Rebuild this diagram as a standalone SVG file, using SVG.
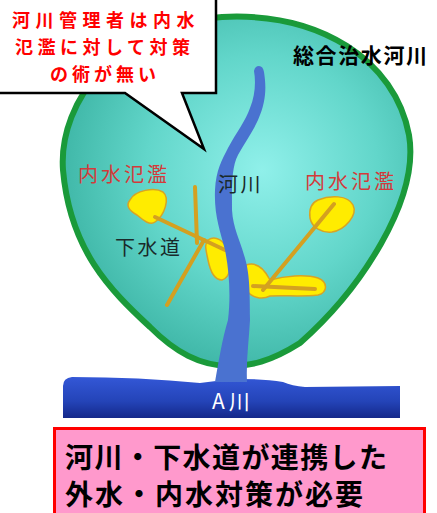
<svg xmlns="http://www.w3.org/2000/svg" width="437" height="513" viewBox="0 0 437 513">
  <defs>
    <radialGradient id="basinFill" cx="262" cy="170" r="210" gradientUnits="userSpaceOnUse">
      <stop offset="0" stop-color="#90f0ea"/>
      <stop offset="0.55" stop-color="#62d6ca"/>
      <stop offset="1" stop-color="#3cb4a4"/>
    </radialGradient>
    <linearGradient id="mainRiver" x1="0" y1="376" x2="0" y2="418" gradientUnits="userSpaceOnUse">
      <stop offset="0" stop-color="#3458d8"/>
      <stop offset="0.6" stop-color="#2444b8"/>
      <stop offset="1" stop-color="#14288a"/>
    </linearGradient>
    <style>
      .jp { font-family: "Noto Sans CJK JP", "Noto Sans CJK SC", sans-serif; }
      .bold { font-weight: 700; }
      .flood { fill: #d43a3a; font-size: 20px; letter-spacing: 3px; }
      .label { fill: #1a2a2a; font-size: 20px; letter-spacing: 2.5px; }
      .pool { fill: #ffec00; stroke: #d8a424; stroke-width: 1.5; }
      .sewer { stroke: #d4a020; stroke-width: 4; stroke-linecap: round; fill: none; }
    </style>
  </defs>

  <rect width="437" height="513" fill="#ffffff"/>

  <!-- Main river (A川) along the bottom -->
  <g id="a-river">
    <path d="M63,386 Q63,378 72,377 Q140,377 200,383 Q220,380 240,379 Q265,379 283,382 Q292,386 305,387 L400,386 L400,418 L63,418 Z" fill="url(#mainRiver)"/>
    <text class="jp" x="212" y="409" font-size="21" fill="#ffffff" letter-spacing="4">A川</text>
  </g>

  <!-- River basin outline -->
  <g id="basin">
    <path d="M222,17 C320,12 395,60 409,135 C420,200 360,290 300,343 C270,362 250,366 230,366 C200,366 175,352 150,327 C110,290 70,250 63,170 C58,100 120,22 222,17 Z" fill="url(#basinFill)" stroke="#1a9a3a" stroke-width="6"/>
  </g>

  <!-- Inland flood pools -->
  <g id="pools">
    <path class="pool" d="M130,200 C135,190 155,187 163,192 C170,198 165,215 155,222 C150,226 143,220 137,215 C128,210 126,205 130,200 Z"/>
    <path class="pool" d="M208,240 C215,235 225,240 228,252 C232,265 230,278 222,280 C214,280 210,270 208,260 C206,250 204,244 208,240 Z"/>
    <path class="pool" d="M246,265 C258,261 265,270 270,280 C285,276 305,274 318,278 C328,282 328,292 318,295 C300,297 285,295 270,296 C262,300 252,298 246,290 Z"/>
    <path class="pool" d="M318,200 C330,195 348,195 353,205 C358,215 345,230 332,232 C322,233 312,228 310,218 C309,210 311,203 318,200 Z"/>
  </g>

  <!-- Sewer lines -->
  <g id="connectors">
    <line class="sewer" x1="155" y1="217" x2="225" y2="250"/>
    <line class="sewer" x1="195" y1="187" x2="197" y2="243"/>
    <line class="sewer" x1="204" y1="240" x2="167" y2="305"/>
    <line class="sewer" x1="334" y1="204" x2="263" y2="290"/>
    <line class="sewer" x1="253" y1="286" x2="315" y2="289"/>
  </g>

  <!-- Tributary river running through the basin -->
  <g id="tributary">
    <path d="M254,71 Q255,66 259,66 Q263,66 264,72 C266,85 267,100 258,120 C252,133 245,142 238,155 C231,168 232,190 232,210 C233,228 240,240 244,255 C249,270 250,285 250,320 C249,340 246,360 247,382 L215,382 C219,360 222,340 228,320 C231,295 229,270 225,250 C220,230 214,215 215,190 C216,170 222,160 228,148 C236,133 246,120 250,108 C255,96 256,82 254,71 Z" fill="#4a72d0"/>
  </g>

  <!-- Map labels -->
  <g id="labels">
    <text class="jp flood" x="78" y="182">内水氾濫</text>
    <text class="jp flood" x="305" y="189">内水氾濫</text>
    <text class="jp label" x="218" y="192">河川</text>
    <text class="jp label" x="115" y="255">下水道</text>
  </g>

  <g id="basin-title">
    <text class="jp bold" x="293" y="63" font-size="21" fill="#000000" letter-spacing="1.6">総合治水河川</text>
  </g>

  <!-- Speech balloon -->
  <g id="callout">
    <path d="M-3,-3 H216 V93 H182 L204,149 L125,93 H-3 Z" fill="#ffffff" stroke="#000000" stroke-width="2.5" stroke-linejoin="miter"/>
    <g class="jp bold" fill="#ff0000" font-size="18">
      <text x="12" y="27" letter-spacing="5.5">河川管理者は内水</text>
      <text x="15" y="54" letter-spacing="4.5">氾濫に対して対策</text>
      <text x="50" y="81" letter-spacing="4">の術が無い</text>
    </g>
  </g>

  <!-- Conclusion box -->
  <g id="conclusion">
    <rect x="54.5" y="428.5" width="370" height="90" fill="#ff99cc" stroke="#ff0000" stroke-width="3"/>
    <g class="jp bold" fill="#000000" font-size="28">
      <text x="65" y="468" letter-spacing="1.4">河川・下水道が連携した</text>
      <text x="65" y="505" letter-spacing="2">外水・内水対策が必要</text>
    </g>
  </g>
</svg>
